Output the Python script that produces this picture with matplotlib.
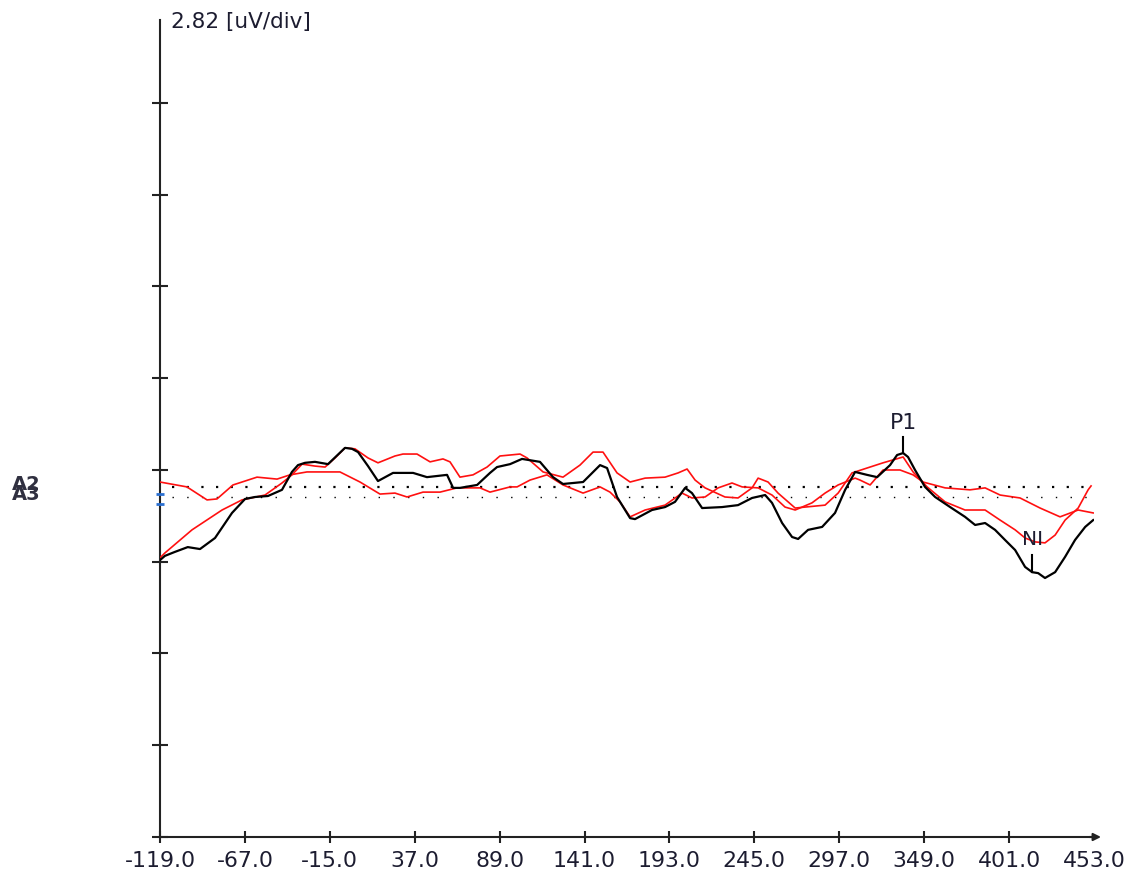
import numpy as np
import matplotlib
matplotlib.use("Agg")
import matplotlib.pyplot as plt

# ---- data (time in ms, amplitude in uV) ----
black_t = [-119, -116, -110, -102, -94.5, -85.3, -74.9, -66.9, -60.8, -52.9, -44.3, -38.2, -34.5,
           -30.2, -24.1, -16.1, -5.7, -1.4, 2.3, 8.4, 14.5, 23.7, 36.0, 44.5, 56.8, 60.5, 64.7,
           75.2, 83.1, 87.4, 95.4, 102.7, 113.7, 121.7, 127.8, 134.0, 140.1, 150.5, 154.8, 160.9,
           168.9, 171.9, 182.3, 190.3, 196.4, 202.6, 206.8, 213.0, 225.2, 235.0, 243.6, 251.6,
           255.8, 262.0, 268.1, 271.8, 277.9, 286.5, 294.4, 300.6, 306.7, 314.0, 320.2, 328.1,
           332.4, 336.1, 339.1, 343.4, 349.5, 355.7, 364.9, 374.0, 380.2, 386.3, 392.4, 398.5,
           404.7, 410.8, 415.1, 418.8, 423.0, 429.2, 435.3, 441.4, 447.6, 452.5]
black_v = [-2.77, -2.64, -2.52, -2.37, -2.43, -2.09, -1.32, -0.89, -0.83, -0.80, -0.61, -0.06, 0.15,
           0.22, 0.25, 0.18, 0.68, 0.65, 0.55, 0.12, -0.34, -0.09, -0.09, -0.22, -0.15, -0.55, -0.55,
           -0.46, -0.09, 0.09, 0.18, 0.34, 0.25, -0.22, -0.43, -0.40, -0.37, 0.15, 0.06, -0.83,
           -1.48, -1.51, -1.23, -1.14, -0.98, -0.55, -0.71, -1.17, -1.14, -1.08, -0.86, -0.77,
           -1.01, -1.63, -2.06, -2.12, -1.84, -1.75, -1.32, -0.61, -0.06, -0.15, -0.22, 0.15,
           0.46, 0.52, 0.40, 0.00, -0.52, -0.83, -1.14, -1.44, -1.69, -1.63, -1.84, -2.15,
           -2.46, -2.98, -3.14, -3.17, -3.32, -3.14, -2.67, -2.15, -1.75, -1.54]

red_a_t = [-119, -116, -99.4, -81.0, -68.8, -54.7, -44.3, -38.2, -32.0, -24.1, -17.9, -11.8, -5.7,
           0.4, 8.4, 14.5, 24.9, 29.8, 38.4, 46.4, 54.3, 58.6, 64.7, 72.7, 81.3, 89.2, 101.5,
           105.8, 115.6, 127.8, 138.2, 146.2, 152.3, 160.9, 168.9, 178.1, 190.3, 198.3, 203.8,
           208.7, 214.8, 227.0, 235.0, 243.6, 247.3, 253.4, 259.5, 270.0, 276.0, 288.3, 296.3,
           304.8, 314.0, 323.8, 336.1, 342.2, 350.8, 361.8, 374.0, 386.3, 395.5, 404.7, 410.8,
           416.9, 423.0, 429.2, 435.3, 443.3, 449.4, 451.2]
red_a_v = [-2.70, -2.55, -1.84, -1.23, -0.92, -0.77, -0.40, -0.15, 0.18, 0.12, 0.09, 0.37, 0.68,
           0.65, 0.37, 0.22, 0.43, 0.49, 0.49, 0.25, 0.34, 0.25, -0.22, -0.15, 0.09, 0.43, 0.49,
           0.37, -0.06, -0.22, 0.15, 0.55, 0.55, -0.09, -0.37, -0.25, -0.22, -0.09, 0.03,
           -0.31, -0.55, -0.83, -0.86, -0.55, -0.25, -0.37, -0.71, -1.17, -1.14, -1.08, -0.71,
           -0.09, 0.06, 0.22, 0.40, -0.06, -0.52, -0.98, -1.23, -1.23, -1.54, -1.84, -2.09,
           -2.21, -2.24, -2.00, -1.54, -1.17, -0.61, -0.49]

red_b_t = [-119, -102.5, -90.2, -84.1, -74.3, -59.6, -47.3, -39.4, -29.0, -8.8, 3.5, 15.7, 24.9,
           32.3, 42.1, 52.5, 62.9, 77.0, 83.1, 95.4, 99.7, 107.6, 118.0, 127.8, 140.1, 150.5,
           156.6, 162.7, 168.9, 178.1, 190.3, 200.7, 206.8, 214.8, 222.8, 231.3, 237.5, 247.3,
           255.8, 263.8, 270.0, 280.3, 288.3, 296.3, 306.7, 309.7, 315.9, 323.8, 334.2, 342.2,
           348.3, 361.8, 377.1, 386.3, 395.5, 407.7, 420.0, 432.2, 443.3, 452.5]
red_b_v = [-0.37, -0.52, -0.92, -0.89, -0.46, -0.22, -0.28, -0.15, -0.06, -0.06, -0.37, -0.74, -0.71,
           -0.83, -0.68, -0.68, -0.55, -0.55, -0.68, -0.52, -0.52, -0.31, -0.15, -0.46, -0.71, -0.52,
           -0.68, -0.98, -1.44, -1.23, -1.08, -0.71, -0.86, -0.83, -0.55, -0.40, -0.52, -0.55,
           -0.77, -1.14, -1.23, -1.01, -0.71, -0.46, -0.25, -0.31, -0.46, 0.00, 0.00, -0.15,
           -0.37, -0.55, -0.61, -0.55, -0.77, -0.86, -1.17, -1.44, -1.23, -1.32]

x_ticks = [-119, -67, -15, 37, 89, 141, 193, 245, 297, 349, 401, 453]
x_tick_labels = ["-119.0", "-67.0", "-15.0", "37.0", "89.0", "141.0", "193.0", "245.0",
                 "297.0", "349.0", "401.0", "453.0"]
uv_per_div = 2.82
n_div = [-4, -3, -2, -1, 0, 1, 2, 3, 4]
baseline_a2 = -0.52
baseline_a3 = -0.83
peak_p1 = (336.1, 0.52)
peak_n1 = (415.1, -3.14)

# ---- figure ----
W, H = 1135, 875
fig = plt.figure(figsize=(W / 100, H / 100), dpi=100)
ax = fig.add_axes([160 / W, 38 / H, 934 / W, 817 / H])
ax.set_xlim(-119, 453)
ax.set_ylim(-4 * uv_per_div, 13.83)

axis_col = "#222222"
txt_col = "#1c1c30"

for s in ["top", "right"]:
    ax.spines[s].set_visible(False)
for s in ["left", "bottom"]:
    ax.spines[s].set_color(axis_col)
    ax.spines[s].set_linewidth(1.5)

# arrow at x-axis end
ax.annotate("", xy=(1.0075, 0), xytext=(0.995, 0), xycoords="axes fraction",
            arrowprops=dict(arrowstyle="-|>", color=axis_col, lw=1.5,
                            mutation_scale=11, shrinkA=0, shrinkB=0))

ax.set_xticks(x_ticks)
ax.set_xticklabels(x_tick_labels, fontsize=15.8, color=txt_col)
ax.tick_params(axis="x", direction="inout", length=8, width=1.5, color=axis_col, pad=6)
ax.xaxis.get_major_ticks()[-1].tick1line.set_visible(False)

ax.set_yticks([d * uv_per_div for d in n_div])
ax.set_yticklabels([])
ax.tick_params(axis="y", direction="inout", length=12, width=1.5, color=axis_col)

# baselines (dotted)
ax.plot([-111.5, 449], [baseline_a2, baseline_a2], color="black", lw=1.6,
        ls=(0, (1, 5.6)), dash_capstyle="butt")
ax.plot([-111.5, 449], [baseline_a3, baseline_a3], color="black", lw=1.0,
        ls=(0, (1, 9.6)), dash_capstyle="butt")

# baseline markers on axis
ax.plot([-119, -119], [-0.74, -1.05], ls="none", marker="_", ms=6, mew=2,
        color="#2a6fd0", clip_on=False, zorder=5)

# traces
ax.plot(red_b_t, red_b_v, color="#ff1010", lw=1.2, zorder=3)
ax.plot(red_a_t, red_a_v, color="#ff1010", lw=1.2, zorder=3)
ax.plot(black_t, black_v, color="black", lw=1.6, zorder=4)

# peak markers
ax.plot([peak_p1[0], peak_p1[0]], [peak_p1[1], peak_p1[1] + 0.49], color="black", lw=1.5, zorder=5)
ax.text(peak_p1[0], peak_p1[1] + 0.92, "P1", ha="center", va="center", fontsize=15.8, color=txt_col)
ax.plot([peak_n1[0], peak_n1[0]], [peak_n1[1], peak_n1[1] + 0.53], color="black", lw=1.5, zorder=5)
ax.text(peak_n1[0], peak_n1[1] + 0.99, "NI", ha="center", va="center", fontsize=14.5, color=txt_col)

# scale label
fig.text(171 / W, 1 - 22 / H, "2.82 [uV/div]", ha="left", va="center", fontsize=15.5, color=txt_col)

# channel labels
fig.text(12 / W, 1 - 495 / H, "A3", ha="left", va="center", fontsize=14, fontweight="bold",
         color="#303040")
fig.text(12 / W, 1 - 485 / H, "A2", ha="left", va="center", fontsize=14, fontweight="bold",
         color="#303040")

fig.savefig("out.png", dpi=100)
